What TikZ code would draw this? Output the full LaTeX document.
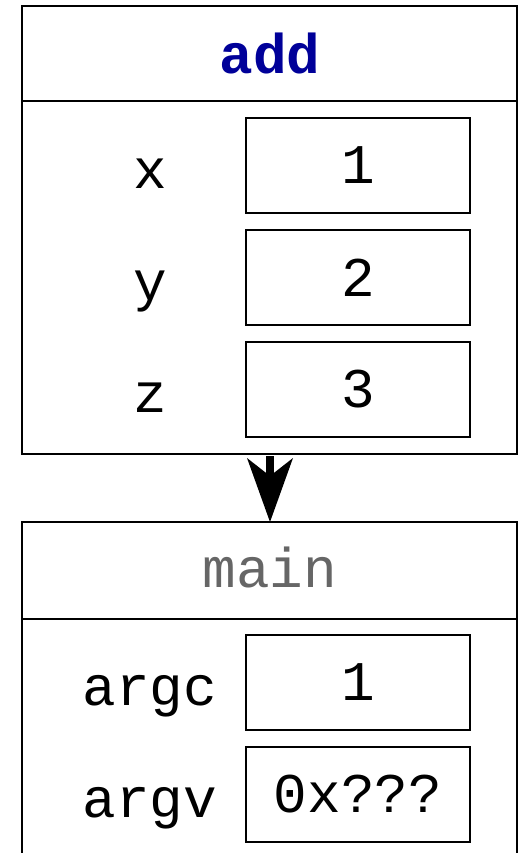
\documentclass[tikz,border=0pt]{standalone}
\usepackage{fontspec}
\setmonofont{Liberation Mono}
\usetikzlibrary{arrows.meta}
\definecolor{titleblue}{HTML}{000099}
\definecolor{titlegray}{HTML}{666666}
\begin{document}
\begin{tikzpicture}[x=1pt,y=-1pt,
  frame/.style={draw, line width=1.6pt, anchor=north west, inner sep=0pt, outer sep=0pt},
  valbox/.style={draw, line width=1.4pt, minimum width=224pt, minimum height=95pt, inner sep=0pt, outer sep=0pt, font=\fontsize{56}{60}\selectfont\ttfamily},
  lbl/.style={inner sep=0pt, font=\fontsize{56}{60}\selectfont\ttfamily},
  ttl/.style={inner sep=0pt, font=\fontsize{56}{60}\selectfont\ttfamily}]
\useasboundingbox (0,0) rectangle (519,853);
\clip (0,0) rectangle (519,853);
% add frame
\node[frame, minimum width=495pt, minimum height=448pt] (addframe) at (22,6) {};
\draw[line width=1.6pt] (22,101) coordinate (adl) -- (517,101) coordinate (adr);
\node[ttl, text=titleblue, font=\fontsize{56}{60}\selectfont\ttfamily\bfseries] (addt) at (270,53.5) {add};
\node[valbox] (bx) at (358,165.5) {1};
\node[valbox] (by) at (358,277.5) {2};
\node[valbox] (bz) at (358,389.5) {3};
\node[lbl, anchor=base] (lx) at (150,188) {x};
\node[lbl, anchor=base] (ly) at (150,300) {y};
\node[lbl, anchor=base] (lz) at (150,412) {z};
% main frame
\node[frame, minimum width=495pt, minimum height=400pt] (mainframe) at (22,522) {};
\draw[line width=1.6pt] (22,619) coordinate (mnl) -- (517,619) coordinate (mnr);
\node[ttl, text=titlegray, anchor=base] (maint) at (270,587) {main};
\node[valbox] (bc) at (358,682.5) {1};
\node[valbox] (bv) at (358,794.5) {0x???};
\node[lbl, anchor=base] (lc) at (150,705) {argc};
\node[lbl, anchor=base] (lv) at (150,817) {argv};
% arrow
\draw[line width=8pt, -{Stealth[length=64pt, width=46pt, inset=18pt, line width=0pt]}] (270,456) coordinate (as) -- (mainframe.north -| as);
\end{tikzpicture}
\end{document}
